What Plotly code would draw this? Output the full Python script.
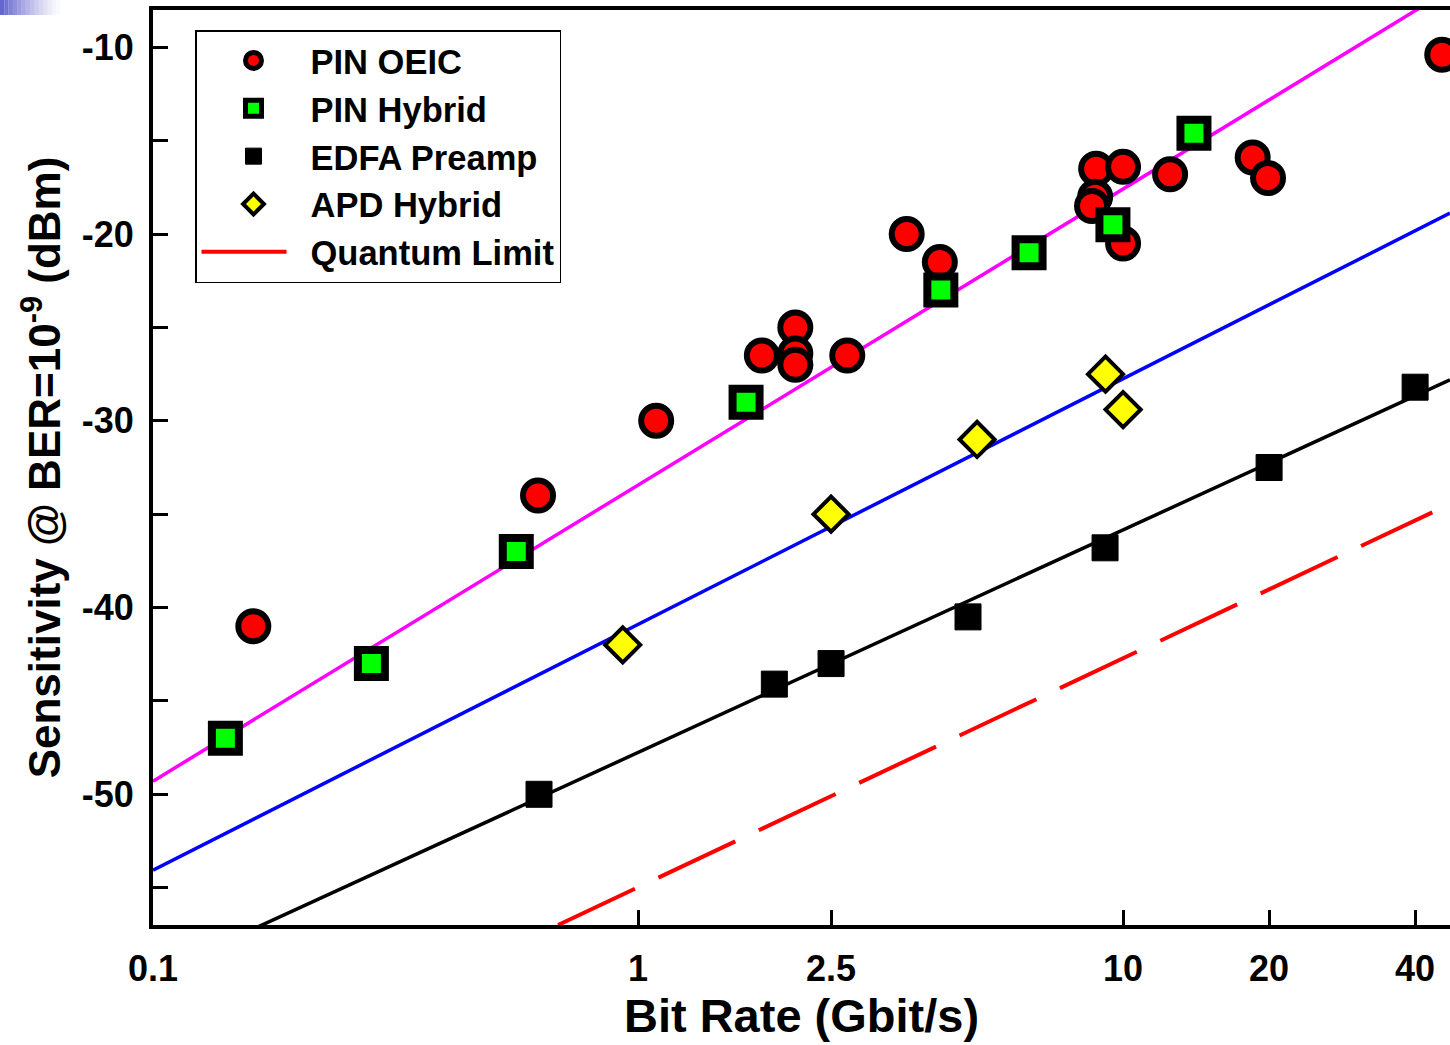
import plotly.graph_objects as go

# ---- measured receiver sensitivities (bit rate in Gbit/s, sensitivity in dBm) ----
pin_oeic_rate = [0.161, 0.622, 1.09, 1.80, 2.11, 2.11, 2.11, 2.70, 3.58, 4.19,
                 8.80, 8.76, 8.63, 10.0, 10.0, 12.5, 18.5, 19.9, 45.5]
pin_oeic_sens = [-41.0, -34.0, -30.0, -26.5, -25.0, -26.4, -27.0, -26.5, -20.0, -21.5,
                 -16.5, -18.0, -18.5, -16.4, -20.5, -16.8, -15.9, -17.0, -10.4]

pin_hybrid_rate = [0.141, 0.282, 0.561, 1.67, 4.21, 6.40, 9.53, 14.0]
pin_hybrid_sens = [-47.0, -43.0, -37.0, -29.0, -23.0, -21.0, -19.5, -14.6]

edfa_rate = [0.625, 1.91, 2.5, 4.79, 9.18, 20.0, 40.0]
edfa_sens = [-50.0, -44.1, -43.0, -40.5, -36.8, -32.5, -28.2]

apd_rate = [0.93, 2.5, 5.0, 9.2, 10.0]
apd_sens = [-42.0, -35.0, -31.0, -27.5, -29.4]

# ---- trend lines (end points in data units) ----
pin_fit_rate = [0.1, 47.2]
pin_fit_sens = [-49.3, -6.9]
apd_fit_rate = [0.1, 47.2]
apd_fit_sens = [-54.06, -18.88]
edfa_fit_rate = [0.1, 47.2]
edfa_fit_sens = [-59.68, -27.81]
quantum_rate = [0.684, 43.4]
quantum_sens = [-57.0, -34.9]

# ---- axis ticks ----
x_tick_vals = [0.1, 1, 2.5, 10, 20, 40]
x_tick_text = ["0.1", "1", "2.5", "10", "20", "40"]
y_tick_vals = [-50, -40, -30, -20, -10]
y_tick_text = ["-50", "-40", "-30", "-20", "-10"]
y_minor_vals = [-55, -45, -35, -25, -15]

FONT = "Liberation Sans, Arial, sans-serif"

fig = go.Figure()

# trend lines under the markers
fig.add_trace(go.Scatter(x=pin_fit_rate, y=pin_fit_sens, mode="lines",
                         line=dict(color="#FF00FF", width=3.5), showlegend=False,
                         hoverinfo="skip"))
fig.add_trace(go.Scatter(x=apd_fit_rate, y=apd_fit_sens, mode="lines",
                         line=dict(color="#0000FF", width=3.5), showlegend=False,
                         hoverinfo="skip"))
fig.add_trace(go.Scatter(x=edfa_fit_rate, y=edfa_fit_sens, mode="lines",
                         line=dict(color="#000000", width=3.5), showlegend=False,
                         hoverinfo="skip"))

fig.add_trace(go.Scatter(x=pin_oeic_rate, y=pin_oeic_sens, mode="markers",
                         name="PIN OEIC",
                         marker=dict(symbol="circle", size=30, color="#FF0000",
                                     line=dict(color="#000000", width=6))))
fig.add_trace(go.Scatter(x=pin_hybrid_rate, y=pin_hybrid_sens, mode="markers",
                         name="PIN Hybrid",
                         marker=dict(symbol="square", size=27, color="#00FF00",
                                     line=dict(color="#000000", width=8))))
fig.add_trace(go.Scatter(x=edfa_rate, y=edfa_sens, mode="markers",
                         name="EDFA Preamp",
                         marker=dict(symbol="square", size=26, color="#000000",
                                     line=dict(color="#000000", width=1))))
fig.add_trace(go.Scatter(x=apd_rate, y=apd_sens, mode="markers",
                         name="APD Hybrid",
                         marker=dict(symbol="diamond", size=27, color="#FFFF00",
                                     line=dict(color="#000000", width=4))))
fig.add_trace(go.Scatter(x=quantum_rate, y=quantum_sens, mode="lines",
                         name="Quantum Limit",
                         line=dict(color="#FF0000", width=4, dash="85px,26px")))

# faded corner accent
shapes = []
n_steps = 14
for i in range(n_steps):
    shapes.append(dict(type="rect", xref="paper", yref="paper",
                       x0=(-153 + i * 4.3) / 1297, x1=(-153 + (i + 1) * 4.3) / 1297,
                       y0=(925 - 15) / 915, y1=(925 - 0) / 915,
                       fillcolor="#5555CC", opacity=0.9 * (1 - i / n_steps) ** 1.3,
                       line=dict(width=0), layer="above"))

fig.update_layout(
    width=1450, height=1045,
    margin=dict(l=153, r=0, t=10, b=120),
    paper_bgcolor="white", plot_bgcolor="white",
    font=dict(family=FONT, color="black", size=34, weight="bold"),
    shapes=shapes,
    showlegend=True,
    legend=dict(x=(195 - 153) / 1297, y=(925 - 30) / 915, xanchor="left", yanchor="top",
                bgcolor="white", bordercolor="black", borderwidth=1.5,
                font=dict(family=FONT, size=34.5, color="black", weight="bold"),
                itemwidth=104, tracegroupgap=0),
    xaxis=dict(type="log", range=[-1, 1.674],
               tickvals=x_tick_vals, ticktext=x_tick_text,
               ticks="inside", ticklen=15, tickwidth=3, tickcolor="black",
               showline=True, linewidth=4, linecolor="black", mirror=True,
               showgrid=False, zeroline=False,
               tickfont=dict(family=FONT, size=36, color="black", weight="bold"),
               ticklabelstandoff=9,
               title=dict(text="Bit Rate (Gbit/s)", standoff=8,
                          font=dict(family=FONT, size=47, color="black", weight="bold"))),
    yaxis=dict(range=[-57, -8],
               tickvals=y_tick_vals, ticktext=y_tick_text,
               ticks="inside", ticklen=15, tickwidth=3, tickcolor="black",
               minor=dict(tickvals=y_minor_vals, ticks="inside", ticklen=15,
                          tickwidth=3, tickcolor="black", showgrid=False),
               showline=True, linewidth=4, linecolor="black", mirror=False,
               showgrid=False, zeroline=False,
               tickfont=dict(family=FONT, size=36, color="black", weight="bold"),
               ticklabelstandoff=8,
               title=dict(text="Sensitivity @ BER=10<sup>-9</sup> (dBm)", standoff=8,
                          font=dict(family=FONT, size=44, color="black", weight="bold"))),
)

fig.write_html("out.html")
